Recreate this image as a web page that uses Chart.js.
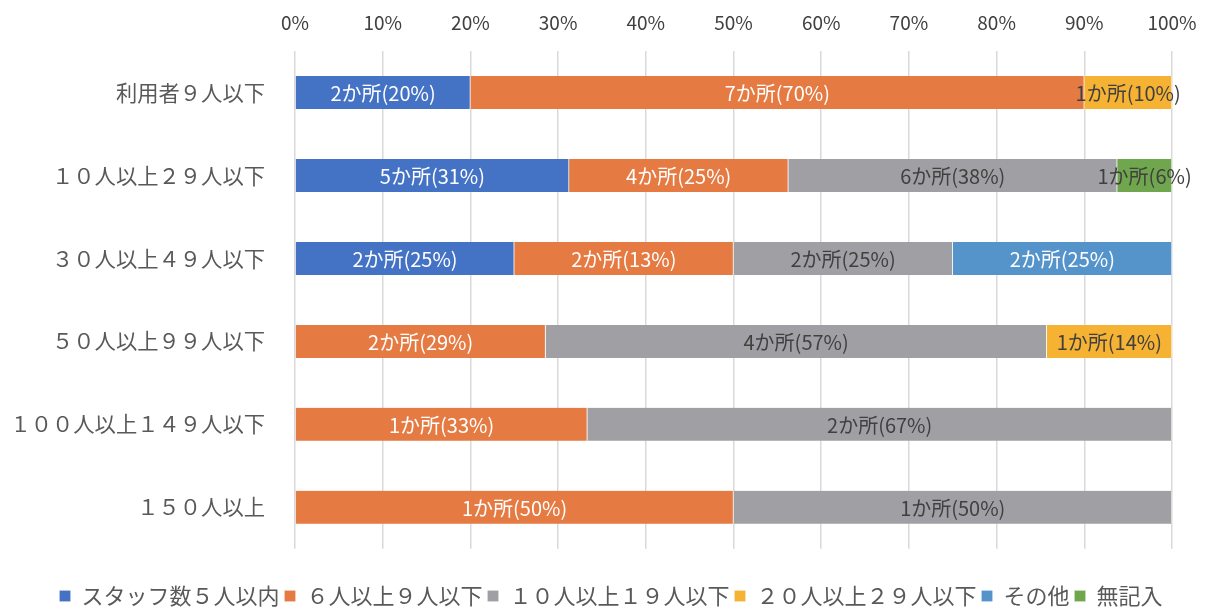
<!DOCTYPE html>
<html>
<head>
<meta charset="utf-8">
<script src="https://cdn.jsdelivr.net/npm/chart.js@4.4.1/dist/chart.umd.min.js"></script>
<style>
  html, body { margin: 0; padding: 0; background: #fff; }
  #wrap { width: 1206px; height: 607px; }
</style>
</head>
<body>
<div id="wrap"><canvas id="chart"></canvas></div>
<script>
const categories = ['利用者９人以下', '１０人以上２９人以下', '３０人以上４９人以下', '５０人以上９９人以下', '１００人以上１４９人以下', '１５０人以上'];
const seriesNames = ['スタッフ数５人以内', '６人以上９人以下', '１０人以上１９人以下', '２０人以上２９人以下', 'その他', '無記入'];

// number of facilities (か所) per group
const staff5 = [2, 5, 2, 0, 0, 0];
const staff6to9 = [7, 4, 2, 2, 1, 1];
const staff10to19 = [0, 6, 2, 4, 2, 1];
const staff20to29 = [1, 0, 0, 1, 0, 0];
const other = [0, 0, 2, 0, 0, 0];
const noAnswer = [0, 1, 0, 0, 0, 0];

// percentages as printed on the labels
const pct5 = [20, 31, 25, 0, 0, 0];
const pct6to9 = [70, 25, 13, 29, 33, 50];
const pct10to19 = [0, 38, 25, 57, 67, 50];
const pct20to29 = [10, 0, 0, 14, 0, 0];
const pctOther = [0, 0, 25, 0, 0, 0];
const pctNoAnswer = [0, 6, 0, 0, 0, 0];

const xTicks = ['0%', '10%', '20%', '30%', '40%', '50%', '60%', '70%', '80%', '90%', '100%'];

const counts = [staff5, staff6to9, staff10to19, staff20to29, other, noAnswer];
const pcts = [pct5, pct6to9, pct10to19, pct20to29, pctOther, pctNoAnswer];
const colors = ['#4472C4', '#E57A42', '#A0A0A4', '#F5B233', '#5594CB', '#6FA64E'];
const labelColors = ['#fff', '#fff', '#404040', '#404040', '#fff', '#404040'];

const totals = categories.map((c, i) => counts.reduce((s, arr) => s + arr[i], 0));

const datasets = counts.map((arr, k) => ({
  label: seriesNames[k],
  data: arr.map((v, i) => v ? v / totals[i] * 100 : null),
  counts: arr,
  pcts: pcts[k],
  backgroundColor: colors[k],
  borderColor: 'rgba(255,255,255,0.7)',
  borderWidth: {top: 0, bottom: 0, left: 0, right: 1},
  borderSkipped: false,
  barThickness: 33
}));

const FONT = "'Noto Sans CJK JP', 'Noto Sans', sans-serif";

const segLabels = {
  id: 'segLabels',
  afterDatasetsDraw(chart) {
    const ctx = chart.ctx;
    ctx.save();
    ctx.font = '20px ' + FONT;
    ctx.textAlign = 'center';
    ctx.textBaseline = 'middle';
    chart.data.datasets.forEach((ds, k) => {
      const meta = chart.getDatasetMeta(k);
      meta.data.forEach((bar, i) => {
        if (!ds.counts[i]) return;
        const cx = (bar.x + bar.base) / 2;
        ctx.fillStyle = labelColors[k];
        ctx.fillText(ds.counts[i] + 'か所(' + ds.pcts[i] + '%)', cx, bar.y + 1);
      });
    });
    ctx.restore();
  }
};

new Chart(document.getElementById('chart'), {
  type: 'bar',
  data: { labels: categories, datasets },
  plugins: [segLabels],
  options: {
    indexAxis: 'y',
    responsive: true,
    maintainAspectRatio: false,
    animation: false,
    layout: { padding: { left: 16, right: 0, top: 0, bottom: -10 } },
    plugins: {
      tooltip: { enabled: false },
      legend: {
        position: 'bottom',
        title: { display: true, text: '', font: { size: 1 }, padding: { top: 30, bottom: 0 } },
        labels: {
          boxWidth: 11,
          boxHeight: 11,
          padding: 5,
          color: '#595959',
          font: { family: FONT, size: 22, lineHeight: 1 }
        }
      }
    },
    scales: {
      x: {
        position: 'top',
        stacked: true,
        min: 0,
        max: 100,
        afterFit(scale) {
          scale.height = 51;
          scale.paddingLeft = 0;
          scale.paddingRight = 34;
        },
        grid: { color: '#D9D9D9', lineWidth: 1.5, drawTicks: false },
        border: { display: false },
        ticks: {
          stepSize: 10,
          padding: 17,
          color: '#404040',
          font: { family: FONT, size: 19 },
          callback: (v, i) => xTicks[i]
        }
      },
      y: {
        stacked: true,
        afterFit(scale) { scale.width = 279; },
        grid: { display: false },
        border: { display: false },
        ticks: {
          padding: 22,
          color: '#595959',
          font: { family: FONT, size: 21.3 }
        }
      }
    }
  }
});
</script>
</body>
</html>
